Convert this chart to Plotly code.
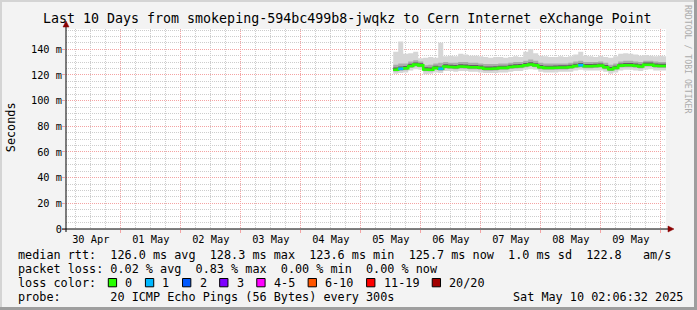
import pandas as pd
import plotly.graph_objects as go

# ---------------- data ----------------
sample_start = "2025-05-05 13:00"
sample_step = "2h"

median_ms = [124.0, 124.8, 125.2, 127.0, 128.1, 127.5, 124.2, 124.0, 125.5, 124.8,
             126.6, 126.2, 126.0, 126.6, 126.4, 126.0, 126.0, 125.6, 124.8, 124.8,
             125.0, 125.5, 125.5, 126.2, 126.6, 126.8, 127.6, 128.2, 127.5, 126.0,
             125.5, 125.5, 125.6, 125.8, 125.8, 126.2, 127.0, 127.6, 126.8, 126.8,
             127.0, 127.3, 126.0, 124.5, 125.5, 127.3, 127.6, 127.6, 127.2, 126.6,
             128.0, 128.0, 127.2, 127.0, 127.0, 127.0]
smoke_min = [121.0, 121.5, 122.0, 123.5, 124.5, 124.0, 120.5, 121.0, 122.0, 121.5,
             123.0, 123.0, 122.5, 123.0, 123.0, 122.5, 122.5, 122.0, 121.5, 121.5,
             121.5, 122.0, 122.0, 122.5, 123.0, 123.0, 124.0, 124.5, 124.0, 122.5,
             122.0, 122.0, 122.0, 122.5, 122.5, 122.5, 123.5, 124.0, 123.5, 123.5,
             123.5, 123.5, 122.5, 121.0, 122.0, 123.5, 124.0, 124.0, 123.5, 123.0,
             124.0, 124.5, 123.5, 123.5, 123.5, 123.5]
smoke_q1 = [122.6, 123.3, 123.7, 125.4, 126.5, 126.0, 122.8, 122.6, 124.0, 123.3,
            125.1, 124.7, 124.5, 125.1, 124.9, 124.5, 124.5, 124.1, 123.3, 123.3,
            123.5, 124.0, 124.0, 124.7, 125.1, 125.3, 126.1, 126.7, 126.0, 124.5,
            124.0, 124.0, 124.1, 124.3, 124.3, 124.7, 125.5, 126.1, 125.3, 125.3,
            125.5, 125.8, 124.5, 123.0, 124.0, 125.8, 126.1, 126.1, 125.7, 125.1,
            126.5, 126.5, 125.7, 125.5, 125.5, 125.5]
smoke_dlo = [123.2, 124.0, 124.4, 126.2, 127.3, 126.7, 123.4, 123.2, 124.7, 124.0,
             125.8, 125.4, 125.2, 125.8, 125.6, 125.2, 125.2, 124.8, 124.0, 124.0,
             124.2, 124.7, 124.7, 125.4, 125.8, 126.0, 126.8, 127.4, 126.7, 125.2,
             124.7, 124.7, 124.8, 125.0, 125.0, 125.4, 126.2, 126.8, 126.0, 126.0,
             126.2, 126.5, 125.2, 123.7, 124.7, 126.5, 126.8, 126.8, 126.4, 125.8,
             127.2, 127.2, 126.4, 126.2, 126.2, 126.2]
smoke_dhi = [125.8, 126.6, 127.0, 128.8, 129.8, 129.2, 126.0, 125.8, 127.2, 126.6,
             128.3, 128.0, 127.7, 128.3, 128.1, 127.7, 127.7, 127.3, 126.5, 126.5,
             126.7, 127.2, 127.2, 127.9, 128.3, 128.5, 129.3, 129.9, 129.2, 127.7,
             127.2, 127.2, 127.3, 127.5, 127.5, 127.9, 128.7, 129.3, 128.5, 128.5,
             128.7, 129.0, 127.7, 126.2, 127.2, 129.0, 129.3, 129.3, 128.9, 128.3,
             129.7, 129.7, 128.9, 128.7, 128.7, 128.7]
smoke_q3 = [128.0, 129.0, 129.0, 130.5, 131.5, 130.5, 127.5, 128.0, 129.0, 129.5,
            130.0, 129.5, 129.5, 130.0, 130.0, 129.5, 129.5, 129.0, 128.5, 128.5,
            128.5, 129.0, 129.0, 129.5, 130.0, 130.0, 131.0, 132.0, 131.0, 129.5,
            129.0, 129.0, 129.0, 129.0, 129.0, 129.5, 130.5, 131.0, 130.0, 130.0,
            130.0, 130.5, 129.5, 128.0, 129.0, 130.5, 131.0, 131.0, 130.5, 130.0,
            131.0, 131.0, 130.5, 130.0, 130.0, 130.0]
smoke_max = [138.0, 146.0, 136.5, 137.0, 138.0, 133.0, 133.5, 134.0, 133.5, 145.0,
             134.5, 135.0, 134.5, 136.5, 136.0, 135.0, 135.0, 134.5, 134.0, 133.5,
             134.0, 134.0, 133.5, 134.0, 134.5, 134.0, 138.0, 140.0, 137.0, 135.0,
             134.5, 134.0, 134.0, 134.5, 134.0, 134.5, 136.0, 138.0, 135.0, 134.5,
             134.0, 135.0, 134.0, 133.5, 134.5, 136.5, 137.0, 136.5, 136.0, 135.0,
             135.5, 135.0, 134.5, 135.0, 134.5, 134.5]
lost_pings = [0, 1, 0, 0, 0, 0, 0, 0, 0, 1, 0, 0, 0, 0, 0, 0, 0, 0, 0, 0,
              0, 0, 0, 0, 0, 0, 0, 0, 0, 0, 0, 0, 0, 0, 0, 0, 0, 1, 0, 0,
              0, 0, 0, 0, 0, 0, 0, 0, 0, 0, 0, 0, 0, 0, 0, 0]

loss_labels = ["0", "1", "2", "3", "4-5", "6-10", "11-19", "20/20"]
loss_colors = ["#26ff00", "#00b8ff", "#0059ff", "#7e00ff", "#ff00ff", "#ff5500", "#ff0000", "#a10000"]

y_tick_vals = [0, 20, 40, 60, 80, 100, 120, 140]
y_tick_text = ["0", "20 m", "40 m", "60 m", "80 m", "100 m", "120 m", "140 m"]

title_text = "Last 10 Days from smokeping-594bc499b8-jwqkz to Cern Internet eXchange Point"
row_rtt = "median rtt:  126.0 ms avg  128.3 ms max  123.6 ms min  125.7 ms now  1.0 ms sd  122.8   am/s"
row_loss = "packet loss: 0.02 % avg  0.83 % max  0.00 % min  0.00 % now"
row_probe = "probe:       20 ICMP Echo Pings (56 Bytes) every 300s"
stamp = "Sat May 10 02:06:32 2025"
x_start, x_end = "2025-04-30 02:06:32", "2025-05-10 02:06:32"
y_top = 155.8

# ---------------- figure ----------------
times = pd.date_range(sample_start, periods=len(median_ms), freq=sample_step)
MONO = "DejaVu Sans Mono"
L, R, T, B, W, H = 66, 31, 29, 81, 697, 310
PW, PH = W - L - R, H - T - B


def PX(x):
    return (x - L) / PW


def PY(y):
    return (H - B - y) / PH


def nb(s):
    return s.replace(" ", "\u00a0")


fig = go.Figure()


def band(lo, hi, color):
    fig.add_trace(go.Scatter(x=times, y=lo, mode="lines", line=dict(width=0, shape="hv"),
                             hoverinfo="skip", showlegend=False))
    fig.add_trace(go.Scatter(x=times, y=hi, mode="lines", line=dict(width=0, shape="hv"),
                             fill="tonexty", fillcolor=color, hoverinfo="skip", showlegend=False))


band(smoke_min, smoke_max, "#d6d6d6")
band(smoke_q1, smoke_q3, "#ababab")
band(smoke_dlo, smoke_dhi, "#5f5f5f")

fig.add_trace(go.Scatter(x=times, y=median_ms, mode="lines",
                         line=dict(color=loss_colors[0], width=2.6, shape="hv"),
                         hoverinfo="skip", showlegend=False))


def loss_bucket(n):
    if n <= 3:
        return n
    if n <= 5:
        return 4
    if n <= 10:
        return 5
    if n <= 19:
        return 6
    return 7


for b in range(1, len(loss_colors)):
    xs, ys = [], []
    for i, n in enumerate(lost_pings[:-1]):
        if n > 0 and loss_bucket(n) == b:
            xs += [times[i], times[i + 1], None]
            ys += [median_ms[i], median_ms[i], None]
    if xs:
        fig.add_trace(go.Scatter(x=xs, y=ys, mode="lines",
                                 line=dict(color=loss_colors[b], width=2.6),
                                 hoverinfo="skip", showlegend=False))

MAJ = "#f4a3a3"
MIN = "#cdcdcd"

fig.update_xaxes(type="date", range=[x_start, x_end], tick0="2025-04-30", dtick=86400000,
                 ticklabelmode="period", tickformat="%d %b", showgrid=True, gridcolor=MAJ,
                 griddash="1px,1px", gridwidth=1, ticks="outside", ticklen=3, tickcolor=MAJ,
                 ticklabelstandoff=-2,
                 tickfont=dict(family=MONO, size=10.3, color="#000"), showline=False, zeroline=False,
                 minor=dict(dtick=6 * 3600 * 1000, tick0="2025-04-30", showgrid=True,
                            gridcolor=MIN, griddash="1px,1px", gridwidth=1),
                 fixedrange=True)
fig.update_yaxes(range=[0, y_top], tickvals=y_tick_vals, ticktext=y_tick_text, showgrid=True,
                 gridcolor=MAJ, griddash="1px,1px", gridwidth=1, ticks="outside", ticklen=3,
                 tickcolor=MAJ, ticklabelstandoff=-2,
                 tickfont=dict(family=MONO, size=10.3, color="#000"),
                 showline=False, zeroline=False,
                 minor=dict(dtick=5, tick0=0, showgrid=True, gridcolor=MIN,
                            griddash="1px,1px", gridwidth=1),
                 fixedrange=True)

shapes = []
# frame
shapes.append(dict(type="rect", xref="paper", yref="paper", x0=PX(0), x1=PX(697), y0=PY(2), y1=PY(0),
                   fillcolor="#d4d4d4", line=dict(width=0), layer="above"))
shapes.append(dict(type="rect", xref="paper", yref="paper", x0=PX(0), x1=PX(2), y0=PY(310), y1=PY(0),
                   fillcolor="#d4d4d4", line=dict(width=0), layer="above"))
shapes.append(dict(type="rect", xref="paper", yref="paper", x0=PX(694), x1=PX(697), y0=PY(310), y1=PY(0),
                   fillcolor="#9e9e9e", line=dict(width=0), layer="above"))
shapes.append(dict(type="rect", xref="paper", yref="paper", x0=PX(0), x1=PX(697), y0=PY(310), y1=PY(307),
                   fillcolor="#9e9e9e", line=dict(width=0), layer="above"))
# axes
shapes.append(dict(type="line", xref="paper", yref="paper", x0=PX(62), x1=PX(669), y0=PY(229), y1=PY(229),
                   line=dict(color="#000", width=1), layer="above"))
shapes.append(dict(type="line", xref="paper", yref="paper", x0=PX(66), x1=PX(66), y0=PY(232), y1=PY(26),
                   line=dict(color="#000", width=1), layer="above"))
shapes.append(dict(type="path", xref="paper", yref="paper",
                   path=f"M {PX(668)} {PY(226)} L {PX(674)} {PY(229)} L {PX(668)} {PY(232)} Z",
                   fillcolor="#8b0000", line=dict(color="#8b0000", width=0.5), layer="above"))
shapes.append(dict(type="path", xref="paper", yref="paper",
                   path=f"M {PX(63)} {PY(27)} L {PX(66)} {PY(21)} L {PX(69)} {PY(27)} Z",
                   fillcolor="#8b0000", line=dict(color="#8b0000", width=0.5), layer="above"))

ann = []


def text(x, y, s, size=11.8, xanchor="left", color="#000", angle=0):
    ann.append(dict(xref="paper", yref="paper", x=PX(x), y=PY(y), text=nb(s), showarrow=False,
                    xanchor=xanchor, yanchor="middle", textangle=angle,
                    font=dict(family=MONO, size=size, color=color)))


text(347.3, 19, title_text, size=13.3, xanchor="center")
text(10.7, 127.5, "Seconds", xanchor="center", angle=-90)
text(688, 59, "RRDTOOL / TOBI OETIKER", size=8.2, xanchor="center", color="#ababab", angle=90)
text(16, 254.7, row_rtt)
text(16, 268.7, row_loss)
text(16, 282.7, "loss color:")
text(16, 296.7, row_probe)
text(684.5, 296.7, stamp, xanchor="right")

cursor = 108.3
for lab, col in zip(loss_labels, loss_colors):
    shapes.append(dict(type="rect", xref="paper", yref="paper", x0=PX(cursor), x1=PX(cursor + 8.3),
                       y0=PY(286.8), y1=PY(278.5), fillcolor=col, line=dict(color="#000", width=1),
                       layer="above"))
    text(cursor + 15, 282.7, lab)
    cursor += 15 + len(lab) * 7.12 + 15

fig.update_layout(width=W, height=H, autosize=False,
                  margin=dict(l=L, r=R, t=T, b=B, pad=0),
                  paper_bgcolor="#f3f3f3", plot_bgcolor="#ffffff",
                  showlegend=False, shapes=shapes, annotations=ann,
                  font=dict(family=MONO))

fig.write_html("out.html")
